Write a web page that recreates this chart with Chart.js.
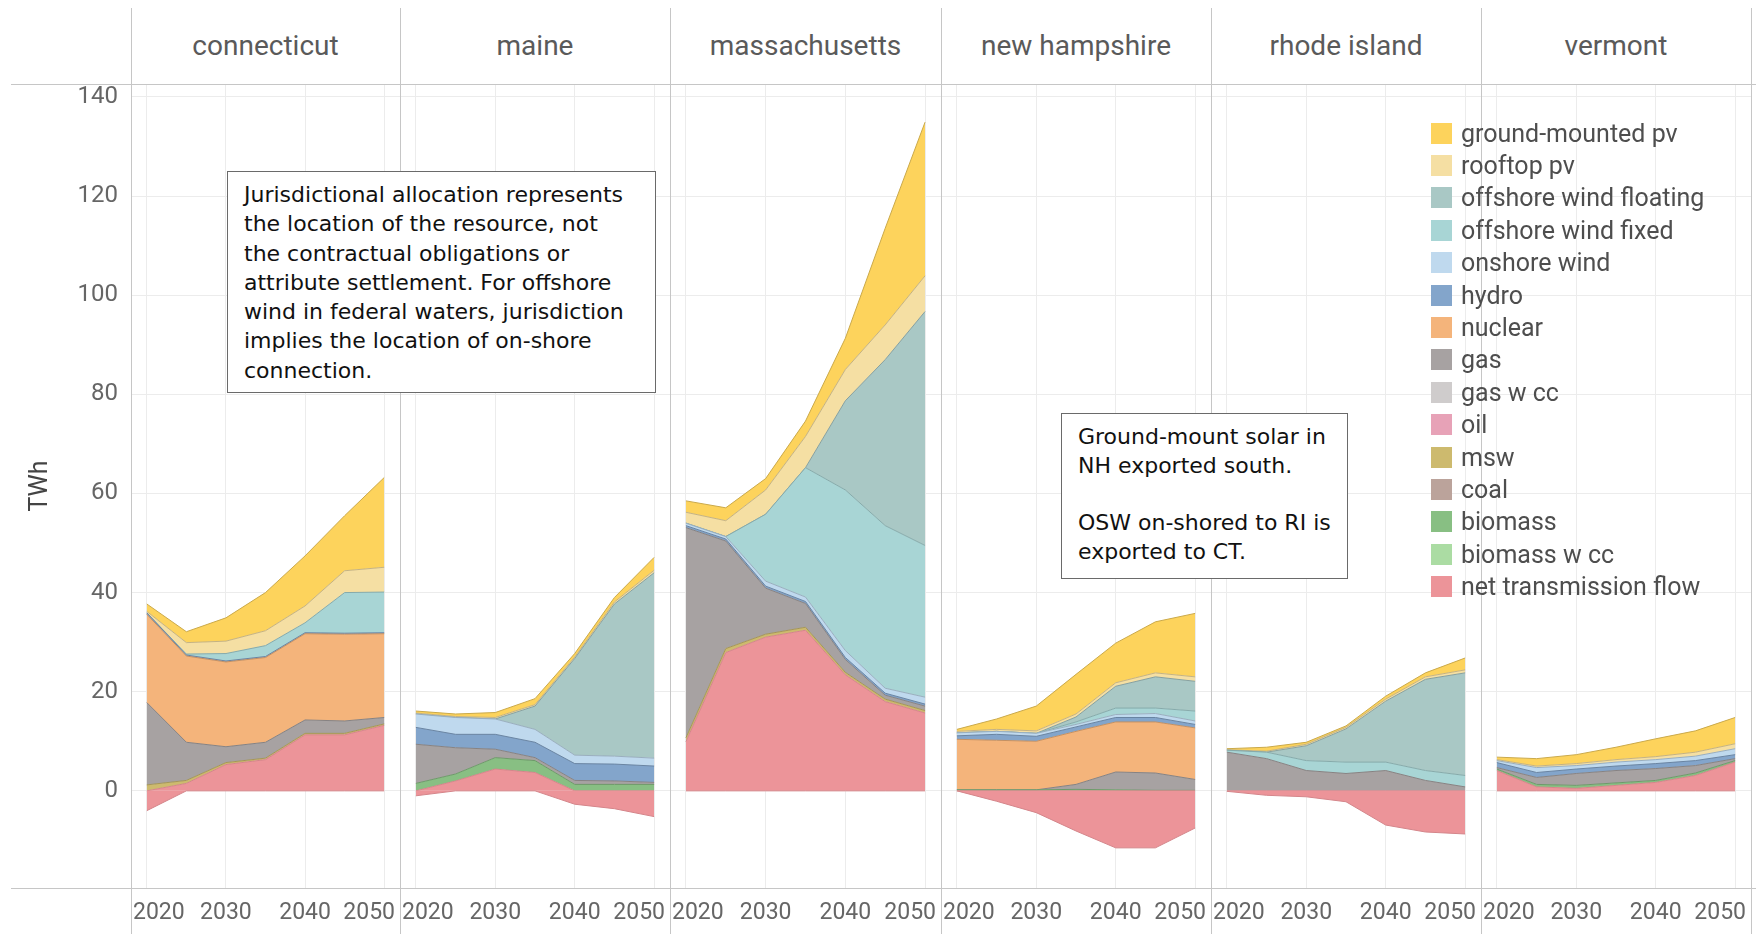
<!DOCTYPE html>
<html>
<head>
<meta charset="utf-8">
<script src="https://cdn.jsdelivr.net/npm/chart.js@4.4.1/dist/chart.umd.min.js"></script>
<style>
  html, body { margin: 0; padding: 0; background: #fff; }
  body { width: 1756px; height: 934px; position: relative; overflow: hidden; font-family: Roboto, "Liberation Sans", sans-serif; }
  .abs { position: absolute; }
  .vline { position: absolute; width: 1px; background: #c6c6c6; }
  .hline { position: absolute; height: 1px; background: #c6c6c6; }
  .strip { position: absolute; top: 26px; height: 40px; line-height: 40px; text-align: center; font-size: 28px; color: #5a5a5a; }
  .note { position: absolute; border: 1px solid #6a6a6a; background: #fff; color: #111; white-space: nowrap;
          font-family: "DejaVu Sans", sans-serif; font-size: 22px; box-sizing: border-box; }
  .legend { position: absolute; left: 1431px; top: 117px; }
  .litem { height: 32.4px; display: flex; align-items: center; font-size: 25px; color: #4e4e4e; white-space: nowrap; }
  .sw { width: 21px; height: 21px; margin-right: 9px; flex: none; }
</style>
</head>
<body>
<script>
// ---------- categories / ticks ----------
const YEARS = [2020, 2025, 2030, 2035, 2040, 2045, 2050];
const X_TICKS = [2020, 2030, 2040, 2050];
const Y_TICKS = [0, 20, 40, 60, 80, 100, 120, 140];
const STATES = ['connecticut', 'maine', 'massachusetts', 'new hampshire', 'rhode island', 'vermont'];
// stacking order, bottom to top
const SERIES = ['net transmission flow', 'biomass w cc', 'biomass', 'coal', 'msw', 'oil', 'gas w cc', 'gas',
                'nuclear', 'hydro', 'onshore wind', 'offshore wind fixed', 'offshore wind floating', 'rooftop pv', 'ground-mounted pv'];
const SERIES_COLORS = ['#ec9499', '#abdca3', '#88bf83', '#bba39b', '#cdba6e', '#e7a2b7', '#cfcccc', '#a7a2a2',
                       '#f4b47b', '#83a5cb', '#bfd9ee', '#a8d5d5', '#a9c8c5', '#f5dfa3', '#fdd35c'];

// ---------- connecticut (TWh) ----------
const ct_net      = [-4.0, 1.5, 5.3, 6.3, 11.3, 11.3, 13.2];
const ct_msw      = [1.2, 0.6, 0.4, 0.3, 0.3, 0.3, 0.3];
const ct_gas      = [16.6, 7.7, 3.2, 3.2, 2.7, 2.5, 1.3];
const ct_nuclear  = [17.8, 17.4, 17.1, 17.1, 17.4, 17.5, 16.9];
const ct_hydro    = [0.3, 0.2, 0.2, 0.2, 0.2, 0.2, 0.2];
const ct_oswFixed = [0.0, 0.2, 1.5, 2.2, 2.0, 8.2, 8.2];
const ct_rooftop  = [0.3, 2.3, 2.5, 3.0, 3.4, 4.4, 5.0];
const ct_ground   = [1.5, 2.2, 4.7, 7.7, 10.1, 11.1, 18.1];

// ---------- maine ----------
const me_net      = [-1.0, 2.0, 4.4, 3.7, -2.7, -3.6, -5.2];
const me_biomass  = [1.5, 1.4, 2.3, 2.4, 1.3, 1.3, 1.3];
const me_gas      = [7.9, 5.3, 1.7, 0.6, 0.8, 0.7, 0.4];
const me_hydro    = [3.4, 2.7, 3.0, 3.1, 3.4, 3.4, 3.3];
const me_onshore  = [2.7, 3.4, 3.1, 2.6, 1.7, 1.6, 1.6];
const me_oswFloat = [0.0, 0.0, 0.0, 4.7, 19.5, 30.7, 37.4];
const me_rooftop  = [0.2, 0.2, 0.3, 0.3, 0.3, 0.4, 0.5];
const me_ground   = [0.4, 0.5, 1.0, 1.2, 0.7, 0.9, 2.6];

// ---------- massachusetts ----------
const ma_net      = [9.9, 27.9, 31.0, 32.4, 23.4, 18.0, 15.7];
const ma_msw      = [0.8, 0.8, 0.6, 0.6, 0.5, 0.5, 0.5];
const ma_gas      = [42.4, 21.7, 9.3, 4.8, 2.6, 0.8, 0.9];
const ma_hydro    = [0.4, 0.4, 0.4, 0.4, 0.4, 0.4, 0.4];
const ma_onshore  = [0.5, 0.5, 1.0, 0.9, 1.4, 1.0, 1.4];
const ma_oswFixed = [0.0, 0.0, 13.5, 26.1, 32.4, 32.8, 30.6];
const ma_oswFloat = [0.0, 0.0, 0.0, 0.0, 18.0, 33.5, 47.2];
const ma_rooftop  = [2.2, 3.2, 4.9, 6.3, 6.3, 7.0, 7.2];
const ma_ground   = [2.3, 2.6, 2.3, 3.1, 6.3, 19.5, 31.0];

// ---------- new hampshire ----------
const nh_net      = [0.0, -2.1, -4.4, -8.1, -11.5, -11.5, -7.5];
const nh_biomass  = [0.2, 0.2, 0.2, 0.3, 0.2, 0.1, 0.1];
const nh_gas      = [0.0, 0.0, 0.0, 1.0, 3.6, 3.5, 2.2];
const nh_nuclear  = [10.2, 10.0, 9.8, 10.7, 10.1, 10.3, 10.4];
const nh_hydro    = [0.7, 1.2, 1.0, 0.9, 0.9, 0.9, 0.7];
const nh_onshore  = [0.6, 0.6, 0.6, 0.5, 0.6, 0.8, 0.7];
const nh_oswFixed = [0.0, 0.0, 0.0, 0.5, 1.3, 1.1, 2.0];
const nh_oswFloat = [0.0, 0.0, 0.0, 1.0, 4.4, 6.3, 6.0];
const nh_rooftop  = [0.3, 0.4, 0.5, 0.6, 0.7, 0.8, 0.9];
const nh_ground   = [0.4, 2.1, 5.0, 8.0, 8.0, 10.3, 12.8];

// ---------- rhode island ----------
const ri_net      = [-0.1, -0.9, -1.2, -2.2, -6.9, -8.3, -8.7];
const ri_gas      = [7.8, 6.5, 4.1, 3.5, 4.1, 2.1, 0.8];
const ri_oswFixed = [0.4, 1.3, 2.0, 2.3, 1.7, 2.0, 2.3];
const ri_oswFloat = [0.0, 0.0, 3.0, 6.7, 12.3, 18.4, 20.7];
const ri_rooftop  = [0.1, 0.2, 0.3, 0.3, 0.4, 0.5, 0.6];
const ri_ground   = [0.2, 0.8, 0.4, 0.3, 0.6, 0.8, 2.4];

// ---------- vermont ----------
const vt_net      = [4.1, 0.8, 0.5, 1.1, 1.7, 3.1, 5.8];
const vt_biomass  = [0.3, 0.5, 0.6, 0.5, 0.4, 0.5, 0.3];
const vt_gas      = [0.3, 1.4, 2.4, 2.5, 2.4, 1.5, 0.4];
const vt_hydro    = [1.0, 1.0, 0.9, 0.9, 1.0, 1.0, 0.8];
const vt_onshore  = [0.4, 1.0, 0.7, 0.8, 0.8, 0.9, 1.2];
const vt_rooftop  = [0.2, 0.3, 0.4, 0.5, 0.6, 0.8, 1.0];
const vt_ground   = [0.5, 1.5, 1.8, 2.5, 3.6, 4.3, 5.3];

// lookup table built from the arrays above
const TABLE = {
  'connecticut':   {'net transmission flow': ct_net, 'msw': ct_msw, 'gas': ct_gas, 'nuclear': ct_nuclear, 'hydro': ct_hydro,
                    'offshore wind fixed': ct_oswFixed, 'rooftop pv': ct_rooftop, 'ground-mounted pv': ct_ground},
  'maine':         {'net transmission flow': me_net, 'biomass': me_biomass, 'gas': me_gas, 'hydro': me_hydro, 'onshore wind': me_onshore,
                    'offshore wind floating': me_oswFloat, 'rooftop pv': me_rooftop, 'ground-mounted pv': me_ground},
  'massachusetts': {'net transmission flow': ma_net, 'msw': ma_msw, 'gas': ma_gas, 'hydro': ma_hydro, 'onshore wind': ma_onshore,
                    'offshore wind fixed': ma_oswFixed, 'offshore wind floating': ma_oswFloat, 'rooftop pv': ma_rooftop, 'ground-mounted pv': ma_ground},
  'new hampshire': {'net transmission flow': nh_net, 'biomass': nh_biomass, 'gas': nh_gas, 'nuclear': nh_nuclear, 'hydro': nh_hydro,
                    'onshore wind': nh_onshore, 'offshore wind fixed': nh_oswFixed, 'offshore wind floating': nh_oswFloat,
                    'rooftop pv': nh_rooftop, 'ground-mounted pv': nh_ground},
  'rhode island':  {'net transmission flow': ri_net, 'gas': ri_gas, 'offshore wind fixed': ri_oswFixed, 'offshore wind floating': ri_oswFloat,
                    'rooftop pv': ri_rooftop, 'ground-mounted pv': ri_ground},
  'vermont':       {'net transmission flow': vt_net, 'biomass': vt_biomass, 'gas': vt_gas, 'hydro': vt_hydro, 'onshore wind': vt_onshore,
                    'rooftop pv': vt_rooftop, 'ground-mounted pv': vt_ground}
};

// ---------- layout (not data) ----------
const EDGES = [131, 400, 670, 941, 1211, 1481, 1751];
const PLOT_TOP = 84, PLOT_BOTTOM = 888, PAGE_H = 934;

function darker(hex, f) {
  const n = parseInt(hex.slice(1), 16);
  const r = Math.round(((n >> 16) & 255) * f), g = Math.round(((n >> 8) & 255) * f), b = Math.round((n & 255) * f);
  return `rgb(${r},${g},${b})`;
}

function buildDatasets(state) {
  const s = TABLE[state];
  const net = s['net transmission flow'];
  const c0 = SERIES_COLORS[0];
  const ds = [];
  ds.push({ label: 'net transmission flow', data: YEARS.map((y, j) => ({ x: y, y: Math.min(net[j], 0) })),
            fill: 'origin', backgroundColor: c0, borderColor: darker(c0, 0.9), borderWidth: 1 });
  ds.push({ label: 'net transmission flow', data: YEARS.map((y, j) => ({ x: y, y: Math.max(net[j], 0) })),
            fill: 'origin', backgroundColor: c0, borderColor: darker(c0, 0.9), borderWidth: 1 });
  let cum = net.map(v => Math.max(v, 0));
  SERIES.forEach((name, k) => {
    if (k === 0) return;
    const vals = s[name];
    if (!vals) return;
    cum = cum.map((b, j) => b + vals[j]);
    const c = SERIES_COLORS[k];
    ds.push({ label: name, data: YEARS.map((y, j) => ({ x: y, y: cum[j] })),
              fill: '-1', backgroundColor: c, borderColor: darker(c, 0.8), borderWidth: 1 });
  });
  return ds;
}

const xLabelPlugin = {
  id: 'xLabels',
  afterDraw(chart) {
    const sc = chart.scales.x, ctx = chart.ctx, area = chart.chartArea;
    ctx.save();
    ctx.font = '23px Roboto';
    ctx.fillStyle = '#666';
    ctx.textAlign = 'center';
    ctx.textBaseline = 'middle';
    sc.ticks.forEach(t => {
      const label = String(t.value);
      const w = ctx.measureText(label).width;
      let x = sc.getPixelForValue(t.value);
      x = Math.max(area.left + w / 2 + 2, Math.min(area.right - w / 2 - 5, x));
      ctx.fillText(label, x, sc.top + 25);
    });
    ctx.restore();
  }
};

// ---------- frame lines ----------
function addDiv(cls, style, text) {
  const d = document.createElement('div');
  d.className = cls;
  Object.assign(d.style, style);
  if (text !== undefined) d.textContent = text;
  document.body.appendChild(d);
  return d;
}

STATES.forEach((state, i) => {
  const left = i === 0 ? 0 : EDGES[i];
  const width = EDGES[i + 1] - left;
  const holder = addDiv('abs', { left: left + 'px', top: PLOT_TOP + 'px', width: width + 'px', height: (PAGE_H - PLOT_TOP) + 'px' });
  const cv = document.createElement('canvas');
  cv.width = width; cv.height = PAGE_H - PLOT_TOP;
  cv.style.width = width + 'px'; cv.style.height = (PAGE_H - PLOT_TOP) + 'px';
  holder.appendChild(cv);
  const first = i === 0;
  new Chart(cv, {
    type: 'line',
    data: { datasets: buildDatasets(state) },
    plugins: [xLabelPlugin],
    options: {
      responsive: false, animation: false, devicePixelRatio: 1,
      layout: { padding: 0 },
      plugins: { legend: { display: false }, tooltip: { enabled: false }, title: { display: false } },
      elements: { point: { radius: 0, hoverRadius: 0 }, line: { tension: 0 } },
      scales: {
        x: {
          type: 'linear', min: 2018, max: 2052,
          afterBuildTicks: sc => { sc.ticks = X_TICKS.map(v => ({ value: v })); },
          ticks: { display: false },
          grid: { color: '#ececec', drawTicks: false },
          border: { display: false },
          afterFit: sc => { sc.height = PAGE_H - PLOT_BOTTOM; sc.paddingLeft = 0; sc.paddingRight = 0; }
        },
        y: {
          type: 'linear', min: -19.6, max: 142.6,
          afterBuildTicks: sc => { sc.ticks = Y_TICKS.map(v => ({ value: v })); },
          ticks: { display: first, font: { family: 'Roboto', size: 24 }, color: '#666', padding: 13 },
          grid: { color: '#ececec', drawTicks: false },
          border: { display: false },
          title: { display: first, text: 'TWh', font: { family: 'Roboto', size: 25 }, color: '#444', padding: { top: 26, bottom: 0 } },
          afterFit: sc => { sc.width = first ? EDGES[0] : 0; sc.paddingTop = 0; sc.paddingBottom = 0; }
        }
      }
    }
  });
  addDiv('strip', { left: EDGES[i] + 'px', width: (EDGES[i + 1] - EDGES[i]) + 'px' }, state);
});

EDGES.forEach(x => addDiv('vline', { left: x + 'px', top: '8px', height: (PAGE_H - 8) + 'px' }));
addDiv('hline', { left: '11px', top: PLOT_TOP + 'px', width: (1756 - 11) + 'px' });
addDiv('hline', { left: '11px', top: PLOT_BOTTOM + 'px', width: (1756 - 11) + 'px' });

// ---------- annotations ----------
const n1 = addDiv('note', { left: '227px', top: '171px', width: '429px', height: '222px', padding: '8px 0 0 16px', lineHeight: '29.3px' });
n1.innerHTML = 'Jurisdictional allocation represents<br>the location of the resource, not<br>the contractual obligations or<br>attribute settlement. For offshore<br>wind in federal waters, jurisdiction<br>implies the location of on-shore<br>connection.';
const n2 = addDiv('note', { left: '1061px', top: '413px', width: '287px', height: '166px', padding: '9px 0 0 16px', lineHeight: '28.8px' });
n2.innerHTML = 'Ground-mount solar in<br>NH exported south.<br><br>OSW on-shored to RI is<br>exported to CT.';

// ---------- legend ----------
const lg = addDiv('legend', {});
SERIES.slice().reverse().forEach(name => {
  const k = SERIES.indexOf(name);
  const it = document.createElement('div');
  it.className = 'litem';
  const sw = document.createElement('span');
  sw.className = 'sw';
  sw.style.background = SERIES_COLORS[k];
  const tx = document.createElement('span');
  tx.textContent = name;
  it.appendChild(sw); it.appendChild(tx);
  lg.appendChild(it);
});
</script>
</body>
</html>
